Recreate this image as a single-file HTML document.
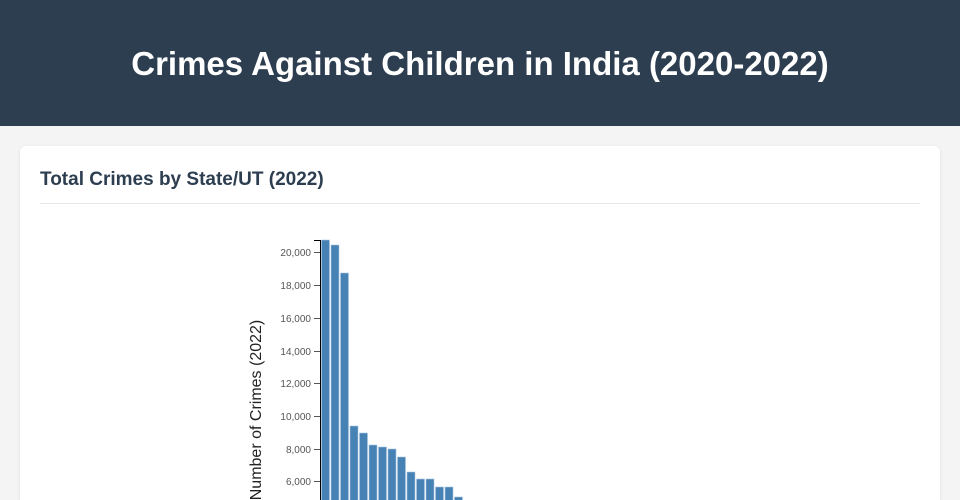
<!DOCTYPE html>
<html><head><style>
html,body{margin:0;width:960px;height:500px;overflow:hidden;background:#f4f4f4;font-family:"Liberation Sans",sans-serif;}
.hdr{height:126px;background:#2d3e50;color:#fff;text-align:center;font-weight:bold;font-size:33px;line-height:128px;}
.card{position:absolute;left:20px;top:146px;width:920px;height:354px;background:#fff;border-radius:6px 6px 0 0;box-shadow:0 1px 4px rgba(0,0,0,0.08);overflow:hidden;}
.card h2{margin:0;position:absolute;left:20px;top:23px;font-size:19px;color:#2d3e50;}
.card .hr{position:absolute;left:20px;right:20px;top:57px;height:1px;background:#e6e6e6;}
svg{position:absolute;left:-20px;top:-146px;}
</style></head><body>
<div class="hdr">Crimes Against Children in India (2020-2022)</div>
<div class="card"><h2>Total Crimes by State/UT (2022)</h2><div class="hr"></div>
<svg width="960" height="500" font-family="Liberation Sans, sans-serif">
<g fill="#4682b4" stroke="#a9c6e0" stroke-width="0.6">
<rect x="321.5" y="240" width="8" height="270"/>
<rect x="331" y="245" width="8" height="270"/>
<rect x="340.5" y="273" width="8" height="270"/>
<rect x="350" y="426" width="8" height="270"/>
<rect x="359.5" y="433" width="8" height="270"/>
<rect x="369" y="445" width="8" height="270"/>
<rect x="378.5" y="447" width="8" height="270"/>
<rect x="388" y="449" width="8" height="270"/>
<rect x="397.5" y="457" width="8" height="270"/>
<rect x="407" y="472" width="8" height="270"/>
<rect x="416.5" y="479" width="8" height="270"/>
<rect x="426" y="479" width="8" height="270"/>
<rect x="435.5" y="487" width="8" height="270"/>
<rect x="445" y="487" width="8" height="270"/>
<rect x="454.5" y="497" width="8" height="270"/>
</g>
<path d="M314,240.5H320.5V520" fill="none" stroke="#000" stroke-width="1"/>
<g font-size="10" fill="#555" text-anchor="end" stroke="#555">
<g stroke-width="1">
<line x1="314" x2="320" y1="252.5" y2="252.5"/><line x1="314" x2="320" y1="285.5" y2="285.5"/>
<line x1="314" x2="320" y1="318.5" y2="318.5"/><line x1="314" x2="320" y1="351.5" y2="351.5"/>
<line x1="314" x2="320" y1="383.5" y2="383.5"/><line x1="314" x2="320" y1="416.5" y2="416.5"/>
<line x1="314" x2="320" y1="449.5" y2="449.5"/><line x1="314" x2="320" y1="481.5" y2="481.5"/>
</g>
<g stroke="none">
<text x="311" y="256">20,000</text><text x="311" y="289">18,000</text>
<text x="311" y="322">16,000</text><text x="311" y="355">14,000</text>
<text x="311" y="387">12,000</text><text x="311" y="420">10,000</text>
<text x="311" y="453">8,000</text><text x="311" y="485">6,000</text>
</g></g>
<text transform="translate(261,410) rotate(-90)" text-anchor="middle" font-size="16" fill="#222">Number of Crimes (2022)</text>
</svg></div>
</body></html>
